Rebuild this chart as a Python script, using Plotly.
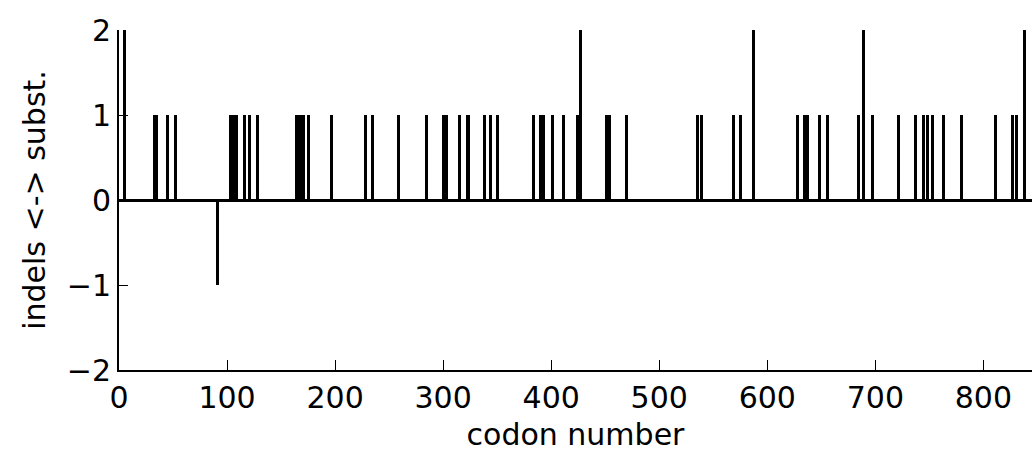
import plotly.graph_objects as go

# codon positions and values (indels negative, substitutions positive)
codons = [5, 33, 35, 45, 52, 91, 103, 105, 107, 109, 116, 121, 128,
          164, 166, 168, 171, 175, 197, 228, 235, 259, 285, 300, 303,
          315, 323, 338, 344, 350, 384, 390, 393, 401, 411, 424, 427,
          451, 454, 470, 535, 539, 569, 575, 587, 628, 634, 637, 648,
          656, 684, 689, 697, 721, 737, 745, 748, 753, 763, 780, 811,
          827, 831, 838]
values = [2, 1, 1, 1, 1, -1, 1, 1, 1, 1, 1, 1, 1,
          1, 1, 1, 1, 1, 1, 1, 1, 1, 1, 1, 1,
          1, 1, 1, 1, 1, 1, 1, 1, 1, 1, 1, 2,
          1, 1, 1, 1, 1, 1, 1, 2, 1, 1, 1, 1,
          1, 1, 2, 1, 1, 1, 1, 1, 1, 1, 1, 1,
          1, 1, 2]

x_ticks = [0, 100, 200, 300, 400, 500, 600, 700, 800]
y_ticks = [-2, -1, 0, 1, 2]

FONT = "DejaVu Sans"

fig = go.Figure()
fig.add_trace(go.Bar(
    x=codons, y=values, width=2.8,
    marker=dict(color="black", line=dict(width=0)),
    showlegend=False,
))

fig.update_layout(
    width=1032, height=457,
    margin=dict(l=119, r=0, t=30, b=87),
    paper_bgcolor="white", plot_bgcolor="white",
    font=dict(family=FONT, size=30, color="black"),
    bargap=0,
)
fig.update_xaxes(
    range=[0, 845], tickvals=x_ticks,
    ticks="inside", ticklen=10, tickwidth=1, tickcolor="black",
    showline=True, linewidth=2, linecolor="black", mirror=False,
    showgrid=False, zeroline=False,
    tickfont=dict(family=FONT, size=30, color="black"),
    title=dict(text="codon number", font=dict(family=FONT, size=30, color="black"), standoff=10),
    automargin=False,
)
fig.update_yaxes(
    range=[-2, 2], tickvals=y_ticks,
    ticks="inside", ticklen=9, tickwidth=1, tickcolor="black",
    showline=True, linewidth=2, linecolor="black", mirror=False,
    showgrid=False, zeroline=True, zerolinecolor="black", zerolinewidth=3,
    tickfont=dict(family=FONT, size=30, color="black"),
    title=dict(text="indels <-> subst.", font=dict(family=FONT, size=30, color="black"), standoff=12),
    automargin=False,
)

fig.write_html("out.html")
